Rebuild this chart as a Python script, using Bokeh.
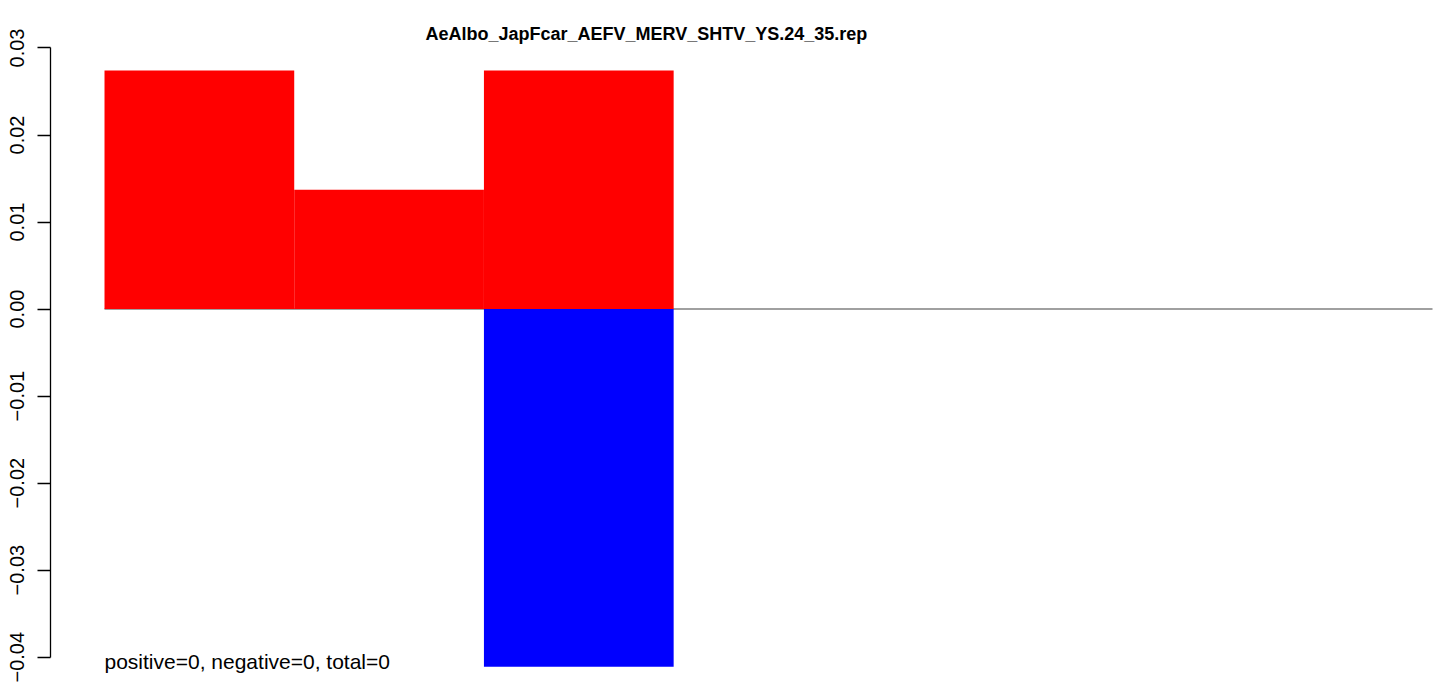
import numpy as np
from bokeh.plotting import figure
from bokeh.models import Range1d, Label, FixedTicker
from bokeh.embed import file_html
from bokeh.resources import INLINE

# ---- data ----
categories = [1, 2, 3, 4, 5, 6, 7]
positive = [0.0274, 0.0137, 0.0274, 0.0, 0.0, 0.0, 0.0]
negative = [0.0, 0.0, -0.0411, 0.0, 0.0, 0.0, 0.0]
y_ticks = [-0.04, -0.03, -0.02, -0.01, 0.00, 0.01, 0.02, 0.03]
y_tick_labels = ["\u22120.04", "\u22120.03", "\u22120.02", "\u22120.01", "0.00", "0.01", "0.02", "0.03"]
title_text = "AeAlbo_JapFcar_AEFV_MERV_SHTV_YS.24_35.rep"
note_text = "positive=0, negative=0, total=0"

n = len(categories)
centers = np.arange(n) + 0.5

p = figure(width=1441, height=683, output_backend="svg", toolbar_location=None,
           x_range=Range1d(-0.2847, 7.0474), y_range=Range1d(-0.04302, 0.03040),
           min_border_left=50, min_border_right=0, min_border_bottom=0, min_border_top=44,
           background_fill_color="white", border_fill_color="white")
p.outline_line_color = None
p.xaxis.visible = False
p.xgrid.visible = False
p.ygrid.visible = False

p.title.text = title_text
p.title.text_font = "Liberation Sans"
p.title.text_font_style = "bold"
p.title.text_font_size = "18px"
p.title.align = "left"
p.title.offset = 375
p.title.standoff = 2
p.title.text_color = "black"

# zero line
p.line(x=[0, n], y=[0, 0], line_color="#a0a0a0", line_width=2)

p.vbar(x=centers, width=1.0, top=positive, bottom=0, fill_color="#ff0000", line_color=None)
p.vbar(x=centers, width=1.0, top=0, bottom=negative, fill_color="#0000ff", line_color=None)

ya = p.yaxis[0]
ya.ticker = FixedTicker(ticks=y_ticks, minor_ticks=[])
ya.major_label_overrides = {t: l for t, l in zip(y_ticks, y_tick_labels)}
ya.bounds = (min(y_ticks), max(y_ticks))
ya.major_label_orientation = "vertical"
ya.major_label_text_font = "Liberation Sans"
ya.major_label_text_font_size = "20px"
ya.major_label_text_color = "black"
ya.major_label_standoff = 13
ya.major_tick_out = 13
ya.major_tick_in = 0
ya.minor_tick_out = 0
ya.minor_tick_in = 0
ya.axis_line_width = 1.3
ya.major_tick_line_width = 1.3
ya.axis_line_color = "black"
ya.major_tick_line_color = "black"

p.add_layout(Label(x=0, y=-0.0405, text=note_text, text_font="Liberation Sans",
                   text_font_size="21px", text_color="black", text_baseline="alphabetic"))

open("out.html", "w").write(file_html(p, INLINE))
